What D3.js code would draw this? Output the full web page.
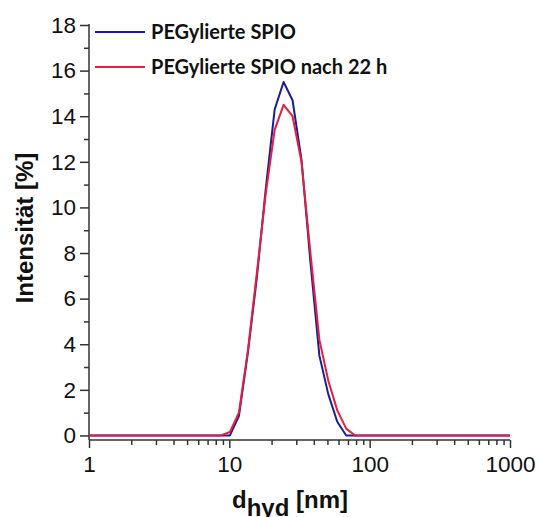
<!DOCTYPE html>
<html>
<head>
<meta charset="utf-8">
<script src="https://cdn.jsdelivr.net/npm/d3@7"></script>
<style>
  body { margin: 0; background: #fff; }
  svg { display: block; }
</style>
</head>
<body>
<div id="chart"></div>
<script>
// hydrodynamic diameter bins [nm]
const sizes = [0.9649, 1.117, 1.294, 1.499, 1.736, 2.01, 2.328, 2.696, 3.122, 3.615, 4.187, 4.849, 5.615, 6.503, 7.531, 8.721,
  10.1, 11.7, 13.54, 15.69, 18.17, 21.04, 24.36, 28.21, 32.67, 37.84, 43.82, 50.75, 58.77, 68.06, 78.82, 91.28,
  105.7, 122.4, 141.8, 164.2, 190.1, 220.2, 255.0, 295.3, 342.0, 396.1, 458.7, 531.2, 615.1, 712.4, 825.0, 955.4, 1106];

// intensity [%]
const pegSpio = [0, 0, 0, 0, 0, 0, 0, 0, 0, 0, 0, 0, 0, 0, 0, 0,
  0, 0.85, 3.6, 6.9, 10.8, 14.3, 15.5, 14.7, 12.1, 7.6, 3.5, 1.8, 0.6, 0, 0, 0,
  0, 0, 0, 0, 0, 0, 0, 0, 0, 0, 0, 0, 0, 0, 0, 0, 0];
const pegSpio22h = [0, 0, 0, 0, 0, 0, 0, 0, 0, 0, 0, 0, 0, 0, 0, 0,
  0.15, 1.0, 3.7, 7.1, 10.6, 13.4, 14.5, 14.0, 12.0, 8.0, 4.2, 2.4, 1.1, 0.3, 0, 0,
  0, 0, 0, 0, 0, 0, 0, 0, 0, 0, 0, 0, 0, 0, 0, 0, 0];

const seriesNames = ["PEGylierte SPIO", "PEGylierte SPIO nach 22 h"];
const seriesColors = ["#1c1c94", "#e3203f"];
const xTicks = [1, 10, 100, 1000];
const yTicks = [0, 2, 4, 6, 8, 10, 12, 14, 16, 18];

const W = 539, H = 517;
const x0 = 89, x1 = 510, yTop = 25, yBot = 440;

const x = d3.scaleLog().domain([1, 1000]).range([x0, x1]);
const y = d3.scaleLinear().domain([-0.2, 18]).range([yBot, yTop]);

const svg = d3.select("#chart").append("svg")
  .attr("width", W)
  .attr("height", H);

svg.append("defs").append("clipPath")
  .attr("id", "clip")
  .append("rect")
  .attr("x", x0).attr("y", 0)
  .attr("width", x1 - x0).attr("height", yBot);

const axisColor = "#333";
const tickFont = "'Liberation Sans', Arial, sans-serif";

// y axis
const yAxis = svg.append("g")
  .attr("transform", `translate(${x0},0)`)
  .call(d3.axisLeft(y).tickValues(yTicks).tickSize(9).tickPadding(4).tickFormat(d3.format("d")));
yAxis.select(".domain").attr("d", `M0,${yBot}V${yTop - 1}`);

svg.append("g")
  .attr("transform", `translate(${x0},0)`)
  .call(d3.axisLeft(y).tickValues(d3.range(1, 18, 2)).tickSize(5).tickFormat(""))
  .select(".domain").remove();

// x axis
const xAxis = svg.append("g")
  .attr("transform", `translate(0,${yBot})`)
  .call(d3.axisBottom(x).tickValues(xTicks).tickSize(8).tickPadding(8).tickFormat(d3.format("d")));
xAxis.select(".domain").attr("d", `M${x0},0H${x1}`);

const minorX = [];
[1, 10, 100].forEach(dec => { for (let k = 2; k <= 9; k++) minorX.push(dec * k); });
svg.append("g")
  .attr("transform", `translate(0,${yBot})`)
  .call(d3.axisBottom(x).tickValues(minorX).tickSize(5).tickFormat(""))
  .select(".domain").remove();

svg.selectAll(".domain, .tick line")
  .attr("stroke", axisColor)
  .attr("stroke-width", 1.5);
svg.selectAll(".tick text")
  .attr("fill", "#111")
  .style("font-family", tickFont)
  .style("font-size", "22.5px");

// lines
const line = d3.line()
  .x(d => x(d[0]))
  .y(d => y(d[1]));

const series = [pegSpio, pegSpio22h];
series.forEach((vals, i) => {
  svg.append("path")
    .datum(sizes.map((s, j) => [s, vals[j]]))
    .attr("clip-path", "url(#clip)")
    .attr("fill", "none")
    .attr("stroke", seriesColors[i])
    .attr("stroke-width", 2)
    .attr("stroke-linejoin", "round")
    .attr("d", line);
});

// legend
const legend = svg.append("g");
seriesNames.forEach((name, i) => {
  const ly = 32 + i * 35;
  legend.append("line")
    .attr("x1", 95).attr("x2", 145)
    .attr("y1", ly).attr("y2", ly)
    .attr("stroke", seriesColors[i])
    .attr("stroke-width", 2);
  legend.append("text")
    .attr("x", 151)
    .attr("y", ly + 7)
    .style("font-family", "Lato, 'Open Sans', sans-serif")
    .style("font-weight", "bold")
    .style("font-size", "20px")
    .attr("fill", "#111")
    .text(name);
});

// axis titles
svg.append("text")
  .attr("transform", `translate(33,228) rotate(-90)`)
  .attr("text-anchor", "middle")
  .style("font-family", tickFont)
  .style("font-weight", "bold")
  .style("font-size", "24px")
  .attr("fill", "#111")
  .text("Intensität [%]");

const xt = svg.append("text")
  .attr("x", 290)
  .attr("y", 508)
  .attr("text-anchor", "middle")
  .style("font-family", tickFont)
  .style("font-weight", "bold")
  .style("font-size", "24px")
  .attr("fill", "#111");
xt.append("tspan").text("d");
xt.append("tspan").attr("dy", 8).text("hyd");
xt.append("tspan").attr("dy", -8).text(" [nm]");
</script>
</body>
</html>
